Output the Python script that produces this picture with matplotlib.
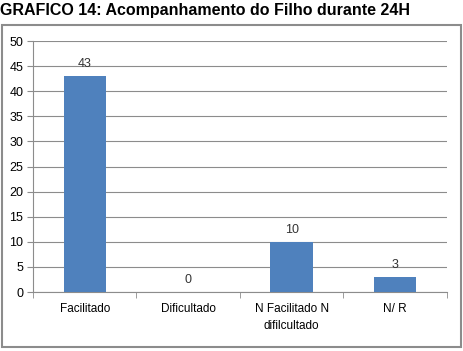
import matplotlib
matplotlib.use("Agg")
from matplotlib import pyplot as plt
from matplotlib.patches import Rectangle
import numpy as np

categories = ["Facilitado", "Dificultado", "N Facilitado N\ndifilcultado", "N/ R"]
values = [43, 0, 10, 3]
title = "GRAFICO 14: Acompanhamento do Filho durante 24H"

fig = plt.figure(figsize=(4.63, 3.51), dpi=100)
ax = fig.add_axes([0.0713, 0.168, 0.894, 0.715])

x = np.arange(len(categories))
ax.bar(x, values, width=0.41, color="#4F81BD", zorder=3)
for xi, v in zip(x, values):
    ax.text(xi, v + 1.2, str(v), ha="center", va="bottom", fontsize=9,
            family="Liberation Sans", color="#333333")

ax.set_xlim(-0.5, len(categories) - 0.5)
ax.set_ylim(0, 50)
ax.set_yticks(range(0, 51, 5))
ax.yaxis.grid(True, color="#8c8c8c", linewidth=0.8, zorder=0)
ax.set_xticks(x)
ax.set_xticklabels(categories, fontsize=8.5, family="Liberation Sans",
                   multialignment="center", linespacing=1.5)
ax.tick_params(axis="x", length=0, pad=8)
ax.set_xticks(np.arange(-0.5, len(categories), 1), minor=True)
ax.tick_params(axis="x", which="minor", length=4, color="#8c8c8c")
ax.tick_params(axis="y", length=4, color="#8c8c8c", labelsize=9, pad=3)
for lab in ax.get_yticklabels():
    lab.set_family("Liberation Sans")
for s in ["top", "right"]:
    ax.spines[s].set_visible(False)
for s in ["left", "bottom"]:
    ax.spines[s].set_color("#8c8c8c")

fig.patches.append(Rectangle((2 / 463, 4 / 351), 459 / 463, 322 / 351,
                             transform=fig.transFigure, fill=False,
                             edgecolor="#8c8c8c", linewidth=1.5))
fig.text(0.0, 1 - 15 / 351, title, fontsize=11.5, fontweight="bold",
         family="Liberation Sans", va="baseline", ha="left")

fig.savefig("out.png", dpi=100)
